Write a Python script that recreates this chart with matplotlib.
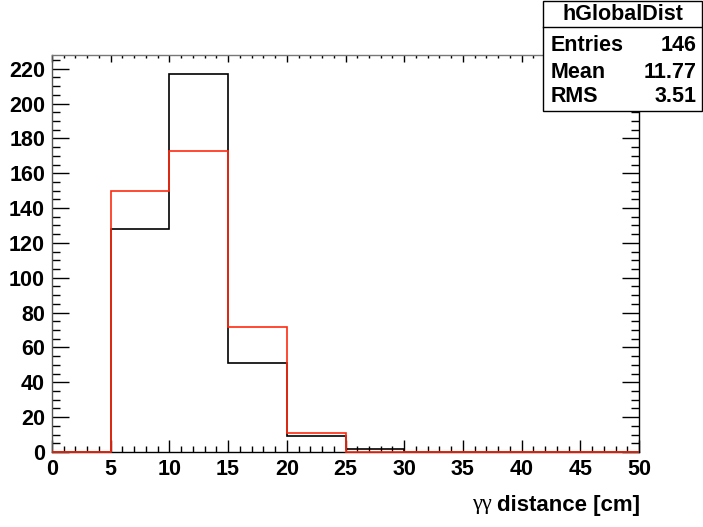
import matplotlib
matplotlib.use("Agg")
import matplotlib.pyplot as plt
import numpy as np
from matplotlib.ticker import MultipleLocator

bin_edges = [0, 5, 10, 15, 20, 25, 30, 35, 40, 45, 50]
black_counts = [0, 128, 217, 51, 9, 2, 0, 0, 0, 0]
red_counts = [0, 150, 173, 72, 11, 0, 0, 0, 0, 0]
stats_title = "hGlobalDist"
stats_rows = [("Entries", "146"), ("Mean", "11.77"), ("RMS", "3.51")]
xlabel_sym = "γγ"
xlabel_txt = "distance [cm]"

W, H = 703, 527
fig = plt.figure(figsize=(W / 100, H / 100), dpi=100)
L, R, T, B = 52, 639, 55, 452
ax = fig.add_axes([L / W, 1 - B / H, (R - L) / W, (B - T) / H])

font = "Liberation Sans"
ax.stairs(black_counts, bin_edges, color="black", linewidth=1.2, baseline=0, zorder=5, clip_on=False)
ax.stairs(red_counts, bin_edges, color="#ff2a10", linewidth=1.2, baseline=0, zorder=6, clip_on=False)

ax.set_xlim(0, 50)
ax.set_ylim(0, max(black_counts) * 1.05)

ax.xaxis.set_major_locator(MultipleLocator(5))
ax.xaxis.set_minor_locator(MultipleLocator(1))
ax.yaxis.set_major_locator(MultipleLocator(20))
ax.yaxis.set_minor_locator(MultipleLocator(5))

ax.tick_params(axis="x", which="major", direction="in", length=8.6, width=1.0, bottom=True, top=False, pad=5)
ax.tick_params(axis="x", which="minor", direction="in", length=4.3, width=1.0, bottom=True, top=False)
ax.tick_params(axis="y", which="major", direction="in", length=12.5, width=1.0, left=True, right=True, pad=5)
ax.tick_params(axis="y", which="minor", direction="in", length=6, width=1.0, left=True, right=True)

sec = ax.secondary_xaxis("top")
sec.xaxis.set_major_locator(MultipleLocator(5))
sec.xaxis.set_minor_locator(MultipleLocator(1))
sec.tick_params(axis="x", which="major", direction="in", length=5, width=1.0, labeltop=False)
sec.tick_params(axis="x", which="minor", direction="in", length=2.5, width=1.0)
sec.spines["top"].set_visible(False)

for lab in ax.get_xticklabels() + ax.get_yticklabels():
    lab.set_fontfamily(font)
    lab.set_fontweight("bold")
    lab.set_fontsize(15.5)

for s in ax.spines.values():
    s.set_linewidth(1.0)
ax.spines["left"].set_color("#555555")
ax.spines["top"].set_color("#777777")

# x label
fig.text(R / W + 1 / W, 1 - 505 / H, xlabel_txt, ha="right", va="center",
         fontfamily=font, fontweight="bold", fontsize=16)
fig.canvas.draw()
renderer = fig.canvas.get_renderer()
t_main = fig.texts[-1]
bb = t_main.get_window_extent(renderer)
fig.text(bb.x0 / W - 5 / W, 1 - 505 / H, xlabel_sym, ha="right", va="center",
         fontfamily="Liberation Serif", fontsize=16)

# stats box
bx0, bx1, by0, by1 = 543, 702, 1, 111
box = plt.Rectangle((bx0 / W, 1 - by1 / H), (bx1 - bx0) / W, (by1 - by0) / H,
                    transform=fig.transFigure, facecolor="white", edgecolor="black", linewidth=1.0, zorder=10)
fig.add_artist(box)
fig.add_artist(plt.Line2D([bx0 / W, bx1 / W], [1 - 27 / H, 1 - 27 / H], transform=fig.transFigure,
                          color="black", linewidth=1.0, zorder=11))
fig.text((bx0 + bx1) / 2 / W, 1 - 15 / H, stats_title, ha="center", va="center",
         fontfamily=font, fontweight="bold", fontsize=15.5, zorder=12)
row_y = [45, 72, 97]
for (k, v), yy in zip(stats_rows, row_y):
    fig.text(551 / W, 1 - yy / H, k, ha="left", va="center",
             fontfamily=font, fontweight="bold", fontsize=15.5, zorder=12)
    fig.text(697 / W, 1 - yy / H, v, ha="right", va="center",
             fontfamily=font, fontweight="bold", fontsize=15.5, zorder=12)

fig.savefig("out.png", dpi=100)
